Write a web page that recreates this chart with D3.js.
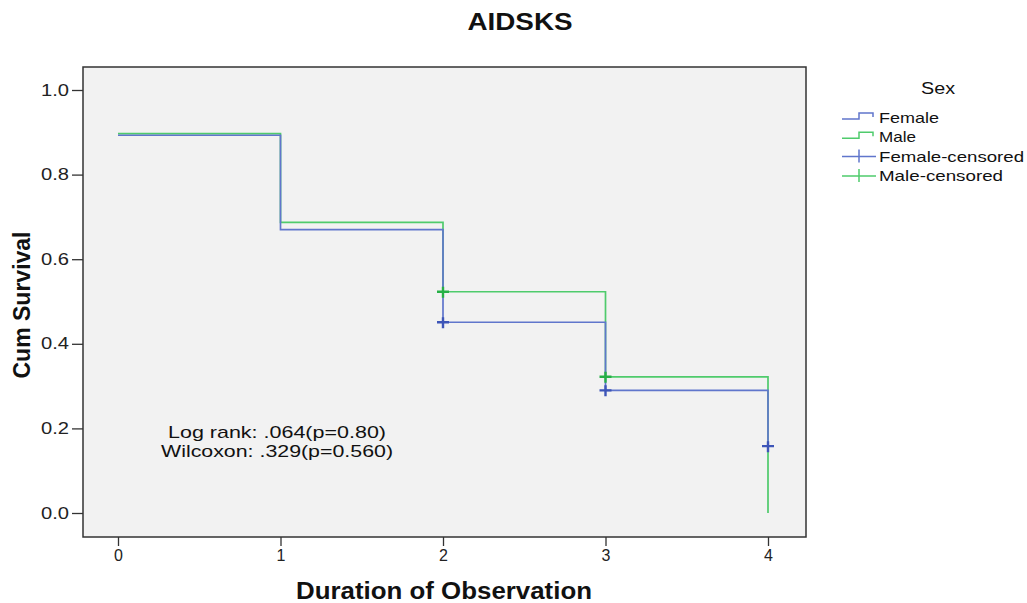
<!DOCTYPE html>
<meta charset="utf-8">
<style>
    body { margin: 0; background: #fff; }
    text { font-family: "Liberation Sans", Arial, sans-serif; }
    .tick text { font-size: 16px; fill: #222; }
    .axis-title { font-weight: bold; fill: #111; }
    .title { font-size: 24px; font-weight: bold; fill: #111; }
    .legend text { font-size: 15px; fill: #111; }
    .stat { font-size: 17px; fill: #111; }
</style>
<svg width="1027" height="603"></svg>
<script src="https://d3js.org/d3.v7.min.js"></script>
<script>

    // survival estimates at each time point (step starts)
    var times = [0, 1, 2, 3, 4];
    var femaleSurv = [0.893, 0.670, 0.451, 0.290, 0.158];
    var maleSurv = [0.897, 0.687, 0.523, 0.322, 0.0];
    // censored points (time index)
    var femaleCensored = [2, 3, 4];
    var maleCensored = [2, 3];
    var yTicks = [0, 0.2, 0.4, 0.6, 0.8, 1.0];
    var xTicks = [0, 1, 2, 3, 4];
    var stats = ["Log rank: .064(p=0.80)", "Wilcoxon: .329(p=0.560)"];

    var blue = "#6076cc", green = "#4fcb6c";
    var blueMark = "#3d55b8", greenMark = "#26b046";

    var svg = d3.select("svg");
    var frame = {left: 83, top: 67, right: 806, bottom: 537};

    var x = d3.scaleLinear().domain([0, 4]).range([118, 768]);
    var y = d3.scaleLinear().domain([0, 1]).range([513, 90]);

    svg.append("rect")
            .attr("x", frame.left).attr("y", frame.top)
            .attr("width", frame.right - frame.left)
            .attr("height", frame.bottom - frame.top)
            .attr("fill", "#f2f2f2")
            .attr("stroke", "#333").attr("stroke-width", 1.5);

    svg.append("g")
            .attr("transform", "translate(" + frame.left + ",0)")
            .call(d3.axisLeft(y).tickValues(yTicks).tickFormat(d3.format(".1f")).tickSize(11).tickPadding(3))
            .call(function(g) {
                g.select(".domain").remove();
                g.selectAll("line").attr("stroke", "#333").attr("stroke-width", 1.3);
                g.selectAll("text").attr("textLength", 28).attr("lengthAdjust", "spacingAndGlyphs");
            });

    svg.append("g")
            .attr("transform", "translate(0," + frame.bottom + ")")
            .call(d3.axisBottom(x).tickValues(xTicks).tickFormat(d3.format("d")).tickSize(9).tickPadding(4))
            .call(function(g) {
                g.select(".domain").remove();
                g.selectAll("line").attr("stroke", "#333").attr("stroke-width", 1.3);
            });

    function stepPath(surv) {
        var p = d3.path();
        p.moveTo(x(times[0]), y(surv[0]));
        for (var i = 1; i < times.length; i++) {
            p.lineTo(x(times[i]), y(surv[i - 1]));
            p.lineTo(x(times[i]), y(surv[i]));
        }
        return p.toString();
    }

    var series = [
        {name: "Male", surv: maleSurv, color: green, mark: greenMark, cens: maleCensored},
        {name: "Female", surv: femaleSurv, color: blue, mark: blueMark, cens: femaleCensored}
    ];

    svg.selectAll(".curve")
            .data(series)
            .enter().append("path")
            .attr("class", "curve")
            .attr("d", function(d) { return stepPath(d.surv); })
            .attr("fill", "none")
            .attr("stroke", function(d) { return d.color; })
            .attr("stroke-width", 1.7);

    series.forEach(function(s) {
        svg.selectAll(null)
                .data(s.cens)
                .enter().append("path")
                .attr("d", function(i) {
                    var cx = x(times[i]), cy = y(s.surv[i]);
                    return "M" + (cx - 6) + "," + cy + "H" + (cx + 6) + "M" + cx + "," + (cy - 5) + "V" + (cy + 6);
                })
                .attr("stroke", s.mark)
                .attr("stroke-width", 2.4);
    });

    svg.selectAll(".stat")
            .data(stats)
            .enter().append("text")
            .attr("class", "stat")
            .attr("x", 277)
            .attr("y", function(d, i) { return 438 + i * 19; })
            .attr("text-anchor", "middle")
            .attr("textLength", function(d, i) { return i ? 232 : 218; })
            .attr("lengthAdjust", "spacingAndGlyphs")
            .text(function(d) { return d; });

    svg.append("text").attr("class", "title")
            .attr("x", 520).attr("y", 30).attr("text-anchor", "middle")
            .attr("textLength", 105).attr("lengthAdjust", "spacingAndGlyphs")
            .text("AIDSKS");

    svg.append("text").attr("class", "axis-title")
            .attr("x", 444).attr("y", 599).attr("text-anchor", "middle")
            .style("font-size", "23px")
            .attr("textLength", 296).attr("lengthAdjust", "spacingAndGlyphs")
            .text("Duration of Observation");

    svg.append("text").attr("class", "axis-title")
            .attr("transform", "translate(30,305) rotate(-90)")
            .style("font-size", "23px")
            .attr("text-anchor", "middle").text("Cum Survival");

    // legend
    var legendItems = [
        {label: "Female", color: blue, type: "step"},
        {label: "Male", color: green, type: "step"},
        {label: "Female-censored", color: blue, type: "cross"},
        {label: "Male-censored", color: green, type: "cross"}
    ];

    var legend = svg.append("g").attr("class", "legend");
    legend.append("text").attr("x", 938).attr("y", 94).attr("text-anchor", "middle")
            .style("font-size", "16px")
            .attr("textLength", 34).attr("lengthAdjust", "spacingAndGlyphs")
            .text("Sex");

    var labelWidth = {"Female": 60, "Male": 37, "Female-censored": 145, "Male-censored": 124};

    var item = legend.selectAll(".item")
            .data(legendItems)
            .enter().append("g")
            .attr("class", "item")
            .attr("transform", function(d, i) { return "translate(842," + (118 + i * 19.3) + ")"; });

    item.append("path")
            .attr("d", function(d) {
                return d.type === "step"
                        ? "M0,1H17V-5H31V-1"
                        : "M0,0H34M17,-7V6";
            })
            .attr("fill", "none")
            .attr("stroke", function(d) { return d.color; })
            .attr("stroke-width", 1.5);

    item.append("text")
            .attr("x", 37).attr("y", 5)
            .attr("textLength", function(d) { return labelWidth[d.label]; })
            .attr("lengthAdjust", "spacingAndGlyphs")
            .text(function(d) { return d.label; });

</script>
